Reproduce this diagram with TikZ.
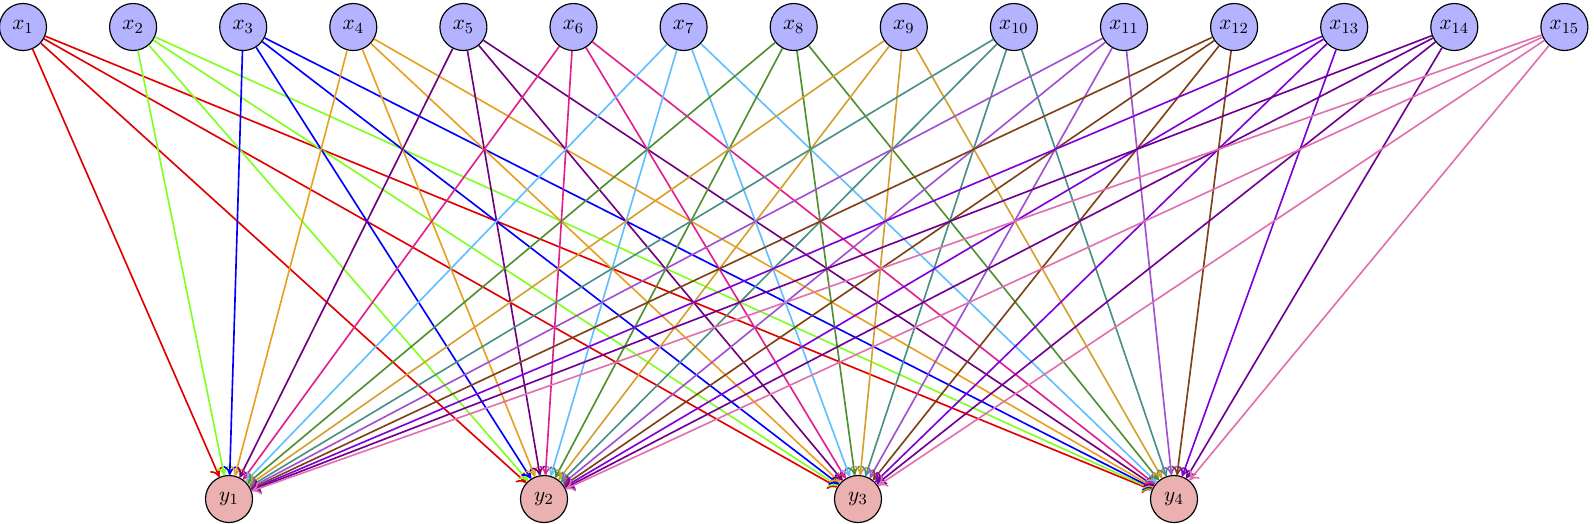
\documentclass[tikz,border=0pt]{standalone}
\usetikzlibrary{arrows.meta}
\definecolor{c1}{HTML}{E00000}
\definecolor{c2}{HTML}{80FF20}
\definecolor{c3}{HTML}{0000FF}
\definecolor{c4}{HTML}{E8A020}
\definecolor{c5}{HTML}{700080}
\definecolor{c6}{HTML}{E0208C}
\definecolor{c7}{HTML}{60BFFF}
\definecolor{c8}{HTML}{4F8F2F}
\definecolor{c9}{HTML}{D4A030}
\definecolor{c10}{HTML}{4A9088}
\definecolor{c11}{HTML}{A050D0}
\definecolor{c12}{HTML}{804018}
\definecolor{c13}{HTML}{8000D8}
\definecolor{c14}{HTML}{700090}
\definecolor{c15}{HTML}{E070B0}
\definecolor{infill}{HTML}{B3B3FF}
\definecolor{outfill}{HTML}{EBB0B0}
\tikzset{
  innode/.style={circle,draw=black,fill=infill,minimum size=0.855cm,inner sep=0pt,line width=0.6pt,font=\fontsize{11pt}{13pt}\selectfont},
  outnode/.style={circle,draw=black,fill=outfill,minimum size=0.855cm,inner sep=0pt,line width=0.6pt,font=\fontsize{11pt}{13pt}\selectfont},
  conn/.style={line width=0.85pt,-{To[length=1.6mm,width=2.4mm]}}
}
\begin{document}
\begin{tikzpicture}[x=1cm/55,y=-1cm/55]
\useasboundingbox (0,0) rectangle (1594,523);
\foreach \i in {1,...,15}{
  \node[innode] (x\i) at ({23+110.1*(\i-1)},27) {$x_{\i}$};
}
\node[outnode] (y1) at (229,499) {$y_1$};
\node[outnode] (y2) at (544,499) {$y_2$};
\node[outnode] (y3) at (858,499) {$y_3$};
\node[outnode] (y4) at (1174,499) {$y_4$};
\foreach \i in {1,...,15}{
  \foreach \j in {1,...,4}{
    \draw[conn,draw=c\i] (x\i) -- (y\j);
  }
}
\end{tikzpicture}
\end{document}
